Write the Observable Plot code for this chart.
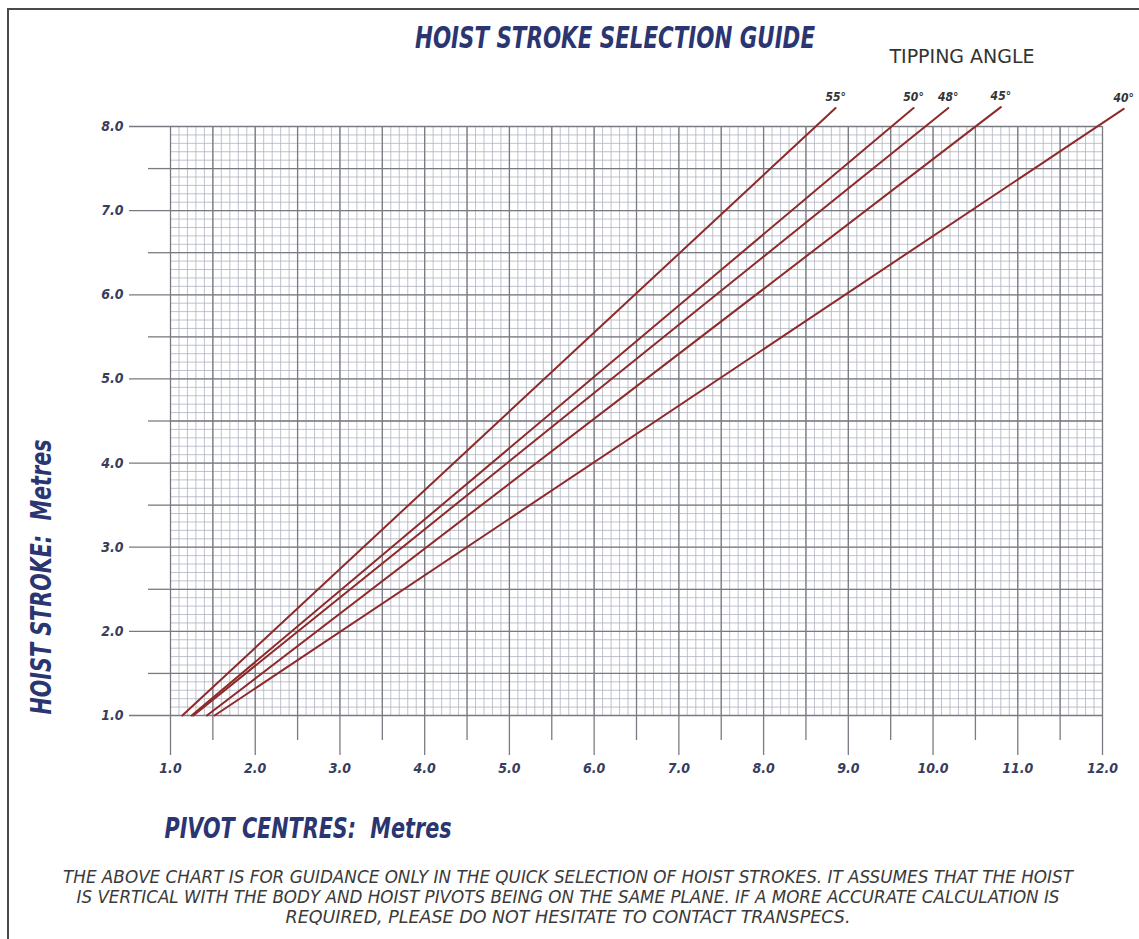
<!DOCTYPE html>
<html>
<head>
<meta charset="utf-8">
<script src="https://cdn.jsdelivr.net/npm/d3@7"></script>
<script src="https://cdn.jsdelivr.net/npm/@observablehq/plot@0.6"></script>
<style>
  html, body { margin: 0; padding: 0; background: #fff; }
  #wrap { position: relative; width: 1139px; height: 939px; overflow: hidden; background: #fff; }
  #frame { position: absolute; left: 7px; top: 8px; width: 1200px; height: 1000px;
           border-left: 2px solid #4a4a4a; border-top: 2px solid #4a4a4a; box-sizing: border-box; }
  #chart { position: absolute; left: 0; top: 0; }
  .t { position: absolute; white-space: nowrap; line-height: 1;
       font-family: "Liberation Sans Narrow", "DejaVu Sans Condensed", "Liberation Sans", sans-serif;
       font-stretch: condensed; }
</style>
</head>
<body>
<div id="wrap">
  <div id="frame"></div>
  <div id="chart"></div>
</div>
<script>
// ---- data ----
const angles = ["55°", "50°", "48°", "45°", "40°"];
// pivot centre (x) where each line meets hoist stroke 1.0
const startX = [1.14, 1.25, 1.27, 1.43, 1.52];
const startY = [1.0, 1.0, 1.0, 1.0, 1.0];
// upper end of each line (above the grid, under its label)
const endX = [8.85, 9.77, 10.18, 10.80, 12.25];
const endY = [8.22, 8.22, 8.22, 8.23, 8.21];

const xTickLabels = [1, 2, 3, 4, 5, 6, 7, 8, 9, 10, 11, 12];
const xHalfTicks = [1.5, 2.5, 3.5, 4.5, 5.5, 6.5, 7.5, 8.5, 9.5, 10.5, 11.5];
const yTickLabels = [1, 2, 3, 4, 5, 6, 7, 8];
const yHalfTicks = [1.5, 2.5, 3.5, 4.5, 5.5, 6.5, 7.5];

const titleText = "HOIST STROKE SELECTION GUIDE";
const legendTitle = "TIPPING ANGLE";
const yTitle = "HOIST STROKE:\u00a0 Metres";
const xTitle = "PIVOT CENTRES:\u00a0 Metres";
const caption = [
  "THE ABOVE CHART IS FOR GUIDANCE ONLY IN THE QUICK SELECTION OF HOIST STROKES. IT ASSUMES THAT THE HOIST",
  "IS VERTICAL WITH THE BODY AND HOIST PIVOTS BEING ON THE SAME PLANE. IF A MORE ACCURATE CALCULATION IS",
  "REQUIRED, PLEASE DO NOT HESITATE TO CONTACT TRANSPECS."
];

// ---- tables for the library ----
const lines = [];
angles.forEach((a, i) => {
  lines.push({angle: a, x: startX[i], y: startY[i]});
  lines.push({angle: a, x: endX[i], y: endY[i]});
});
const tips = angles.map((a, i) => ({angle: a, x: endX[i], y: endY[i]}));

// graph-paper grid positions (every 0.1 within the domain)
const fineX = d3.range(10, 121).map(v => v / 10);
const fineY = d3.range(10, 81).map(v => v / 10);
const majorX = fineX.filter(v => Math.abs(v * 2 - Math.round(v * 2)) < 1e-9);
const majorY = fineY.filter(v => Math.abs(v * 2 - Math.round(v * 2)) < 1e-9);

const fineColor = "#aeb3c1";
const majorColor = "#7a7a82";
const tickFont = {fontSize: 14, fontWeight: "bold", fontStyle: "italic",
  fontFamily: "'Liberation Sans Narrow', 'DejaVu Sans Condensed', sans-serif"};

const chart = Plot.plot({
  width: 1139,
  height: 860,
  marginTop: 126,
  marginLeft: 170,
  marginRight: 37,
  marginBottom: 145,
  x: {domain: [1, 12], label: null},
  y: {domain: [1, 8], label: null},
  style: {background: "transparent", overflow: "visible"},
  marks: [
    Plot.ruleX(fineX, {y1: 1, y2: 8, stroke: fineColor, strokeWidth: 0.8}),
    Plot.ruleY(fineY, {x1: 1, x2: 12, stroke: fineColor, strokeWidth: 0.8}),
    Plot.ruleX(majorX, {y1: 1, y2: 8, stroke: majorColor, strokeWidth: 1.3}),
    Plot.ruleY(majorY, {x1: 1, x2: 12, stroke: majorColor, strokeWidth: 1.3}),
    Plot.axisX(xTickLabels, {anchor: "bottom", tickSize: 40, tickPadding: 8, stroke: majorColor,
      strokeWidth: 1.3, fill: "#373d5c", tickFormat: d => d.toFixed(1), label: null, ...tickFont}),
    Plot.axisX(xHalfTicks, {anchor: "bottom", tickSize: 25, stroke: majorColor, strokeWidth: 1.3,
      tickFormat: () => "", label: null}),
    Plot.axisY(yTickLabels, {anchor: "left", tickSize: 41, tickPadding: 6, stroke: majorColor,
      strokeWidth: 1.3, fill: "#373d5c", tickFormat: d => d.toFixed(1), label: null, ...tickFont}),
    Plot.axisY(yHalfTicks, {anchor: "left", tickSize: 22, stroke: majorColor, strokeWidth: 1.3,
      tickFormat: () => "", label: null}),
    Plot.line(lines, {x: "x", y: "y", z: "angle", stroke: "#8e2a2a", strokeWidth: 2}),
    Plot.text(tips, {x: "x", y: "y", text: "angle", dy: -11, fill: "#333", fontSize: 12,
      fontWeight: "bold", fontStyle: "italic",
      fontFamily: "'Liberation Sans Narrow', 'DejaVu Sans Condensed', sans-serif"})
  ]
});
document.getElementById("chart").appendChild(chart);

// ---- text around the chart ----
const wrap = document.getElementById("wrap");
function place(text, o) {
  const d = document.createElement("div");
  d.className = "t";
  d.textContent = text;
  d.style.fontSize = o.size + "px";
  d.style.fontWeight = o.weight || "normal";
  d.style.fontStyle = o.style || "normal";
  d.style.color = o.color;
  d.style.left = o.x + "px";
  d.style.top = o.y + "px";
  wrap.appendChild(d);
  const w = d.getBoundingClientRect().width;
  const k = o.width ? o.width / w : 1;
  d.style.transformOrigin = "0 0";
  d.style.transform = (o.rotate ? "rotate(-90deg) " : "") +
    "scaleX(" + k + ") translate(-50%, -50%)";
}
const navy = "#2a3571";
place(titleText, {x: 615, y: 38, size: 30, weight: "bold", style: "italic", color: navy, width: 400});
place(legendTitle, {x: 962, y: 56, size: 20, color: "#333", width: 145});
place(yTitle, {x: 42, y: 577, size: 28, weight: "bold", style: "italic", color: navy, width: 275, rotate: true});
place(xTitle, {x: 308, y: 829, size: 28, weight: "bold", style: "italic", color: navy, width: 287});
const capW = [1010, 983, 565];
caption.forEach((c, i) => place(c, {x: 568, y: 878 + i * 20, size: 17.5, style: "italic", color: "#3a3a3a", width: capW[i]}));
</script>
</body>
</html>
